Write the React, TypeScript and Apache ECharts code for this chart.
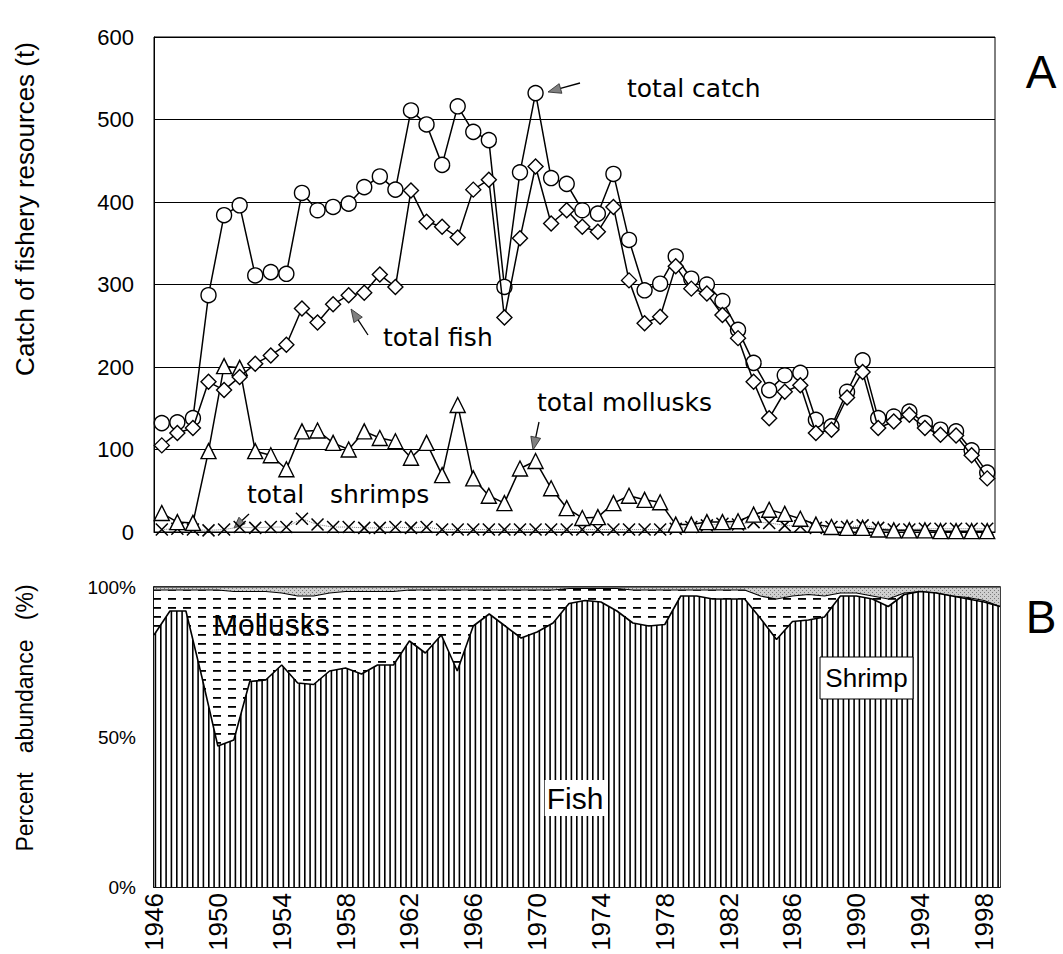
import React, { useEffect, useRef } from "react";
import * as echarts from "echarts";

const years = [
  "1946","1947","1948","1949","1950","1951","1952","1953","1954","1955",
  "1956","1957","1958","1959","1960","1961","1962","1963","1964","1965",
  "1966","1967","1968","1969","1970","1971","1972","1973","1974","1975",
  "1976","1977","1978","1979","1980","1981","1982","1983","1984","1985",
  "1986","1987","1988","1989","1990","1991","1992","1993","1994","1995",
  "1996","1997","1998","1999",
];

const totalCatch = [
  132, 133, 138, 287, 384, 396, 311, 315, 313, 411,
  390, 394, 398, 418, 431, 415, 511, 494, 445, 516,
  485, 475, 297, 436, 532, 429, 422, 390, 386, 434,
  354, 293, 301, 334, 307, 300, 280, 245, 205, 172,
  190, 193, 136, 128, 170, 208, 138, 140, 146, 132,
  124, 122, 99, 72,
];

const totalFish = [
  105, 120, 126, 182, 172, 188, 204, 214, 227, 271,
  254, 276, 287, 290, 312, 297, 414, 376, 370, 357,
  415, 427, 260, 356, 443, 374, 390, 370, 364, 394,
  305, 253, 261, 322, 295, 289, 263, 235, 182, 138,
  170, 178, 120, 124, 163, 194, 126, 134, 142, 126,
  118, 117, 93, 65,
];

const totalMollusks = [
  23, 12, 11, 98, 201, 199, 98, 93, 76, 122,
  123, 108, 100, 122, 114, 110, 90, 108, 69, 154,
  65, 44, 35, 77, 86, 53, 29, 17, 18, 35,
  44, 39, 36, 9, 9, 12, 12, 13, 21, 27,
  22, 16, 9, 6, 5, 5, 3, 2, 2, 2,
  1, 1, 1, 1,
];

const totalShrimps = [
  3, 4, 3, 2, 3, 6, 5, 6, 6, 16,
  9, 6, 6, 5, 5, 6, 5, 6, 3, 3,
  3, 3, 3, 3, 3, 3, 3, 3, 3, 3,
  3, 3, 3, 4, 6, 8, 10, 9, 12, 11,
  8, 7, 5, 6, 6, 8, 5, 3, 3, 4,
  4, 4, 4, 4,
];

const fishPct = [
  84, 92, 92, 70, 47, 49, 68.5, 69, 74, 68,
  67.5, 72, 73, 71, 74, 74, 82, 78, 84, 72,
  87, 91, 87, 83, 85, 88, 94.5, 95.5, 95, 92,
  88, 87, 87.5, 97, 97, 96, 96, 96, 89.5, 82.5,
  88.5, 89, 90, 97, 97, 96, 93.5, 97.5, 98.5, 98,
  97, 96, 95, 93.5,
];

const molluskPct = [
  15, 7, 7, 29, 52, 49.5, 30, 29.5, 24, 29,
  29.5, 26, 25.5, 27.5, 24.5, 24.5, 17, 21, 15, 27,
  12, 8, 12, 16, 14, 11, 5, 4, 4.5, 7.5,
  11, 12, 11.5, 2, 2, 3, 3, 3, 7.5, 13.5,
  8.5, 8.5, 7, 1, 1, 1, 2.5, 0.5, 0, 0,
  0, 0.5, 0.5, 0,
];

const shrimpPct = [
  1, 1, 1, 1, 1, 1.5, 1.5, 1.5, 2, 3,
  3, 2, 1.5, 1.5, 1.5, 1.5, 1, 1, 1, 1,
  1, 1, 1, 1, 1, 1, 0.5, 0.5, 0.5, 0.5,
  1, 1, 1, 1, 1, 1, 1, 1, 3, 4,
  3, 2.5, 3, 2, 2, 3, 4, 2, 1.5, 2,
  3, 3.5, 4.5, 6.5,
];

const AXIS_FONT = "'Liberation Sans', Arial, sans-serif";
const NOTE_FONT = "'DejaVu Sans', sans-serif";

function makeVLinePattern() {
  const c = document.createElement("canvas");
  c.width = 16;
  c.height = 8;
  const ctx = c.getContext("2d")!;
  ctx.fillStyle = "#ffffff";
  ctx.fillRect(0, 0, 16, 8);
  ctx.fillStyle = "#000000";
  ctx.fillRect(0, 0, 1.6, 8);
  ctx.fillRect(5.3, 0, 1.6, 8);
  ctx.fillRect(10.6, 0, 1.6, 8);
  return { image: c, repeat: "repeat", imageWidth: 16, imageHeight: 8 };
}

function makeDashPattern() {
  const c = document.createElement("canvas");
  c.width = 15;
  c.height = 9;
  const ctx = c.getContext("2d")!;
  ctx.fillStyle = "#ffffff";
  ctx.fillRect(0, 0, 15, 9);
  ctx.fillStyle = "#000000";
  ctx.fillRect(3, 4, 8, 1.8);
  return { image: c, repeat: "repeat", imageWidth: 15, imageHeight: 9 };
}

function makeStipplePattern() {
  const c = document.createElement("canvas");
  c.width = 4;
  c.height = 4;
  const ctx = c.getContext("2d")!;
  ctx.fillStyle = "#cfcfcf";
  ctx.fillRect(0, 0, 4, 4);
  ctx.fillStyle = "#7a7a7a";
  ctx.fillRect(0, 0, 1, 1);
  ctx.fillRect(2, 2, 1, 1);
  return { image: c, repeat: "repeat", imageWidth: 4, imageHeight: 4 };
}

function arrow(x1: number, y1: number, x2: number, y2: number, len = 13, half = 5) {
  const dx = x2 - x1;
  const dy = y2 - y1;
  const d = Math.hypot(dx, dy);
  const ux = dx / d;
  const uy = dy / d;
  const bx = x2 - ux * len;
  const by = y2 - uy * len;
  return [
    {
      type: "line",
      shape: { x1, y1, x2: bx, y2: by },
      style: { stroke: "#000", lineWidth: 1.3 },
      silent: true,
    },
    {
      type: "polygon",
      shape: {
        points: [
          [x2, y2],
          [bx - uy * half, by + ux * half],
          [bx + uy * half, by - ux * half],
        ],
      },
      style: { fill: "#808080", stroke: "#222", lineWidth: 0.8 },
      silent: true,
    },
  ];
}

function noteText(text: string, x: number, y: number, size = 25, extra: any = {}) {
  return {
    type: "text",
    x,
    y,
    silent: true,
    style: {
      text,
      fontSize: size,
      fontFamily: NOTE_FONT,
      fill: "#000",
      align: "left",
      verticalAlign: "middle",
      ...extra,
    },
  };
}

export default function App() {
  const ref = useRef<HTMLDivElement>(null);

  useEffect(() => {
    document.body.style.margin = "0";
    const chart = echarts.init(ref.current!, null, { renderer: "svg" });

    const hollow = {
      color: "#ffffff",
      borderColor: "#000000",
      borderWidth: 1.4,
    };
    const lineBlack = { color: "#000000", width: 1.5 };

    const option: any = {
      animation: false,
      backgroundColor: "#ffffff",
      grid: [
        {
          left: 154,
          top: 37,
          width: 841,
          height: 495,
          show: true,
          borderColor: "#000",
          borderWidth: 1,
          backgroundColor: "transparent",
        },
        {
          left: 154,
          top: 587,
          width: 846,
          height: 300,
          show: true,
          borderColor: "#000",
          borderWidth: 1.5,
          backgroundColor: "transparent",
        },
      ],
      xAxis: [
        {
          type: "category",
          gridIndex: 0,
          data: years,
          boundaryGap: true,
          axisLine: { lineStyle: { color: "#000", width: 1 } },
          axisTick: { show: false },
          axisLabel: { show: false },
          splitLine: { show: false },
        },
        {
          type: "category",
          gridIndex: 1,
          data: years,
          boundaryGap: false,
          axisLine: { lineStyle: { color: "#000", width: 1.5 } },
          axisTick: { show: false },
          axisLabel: {
            rotate: 90,
            interval: 3,
            fontSize: 26,
            color: "#000",
            fontFamily: AXIS_FONT,
            margin: 6,
          },
          splitLine: { show: false },
        },
      ],
      yAxis: [
        {
          type: "value",
          gridIndex: 0,
          min: 0,
          max: 600,
          interval: 100,
          axisLine: { show: true, lineStyle: { color: "#000" } },
          axisTick: { show: false },
          splitLine: { show: true, lineStyle: { color: "#000", width: 1 } },
          axisLabel: {
            fontSize: 22,
            color: "#000",
            fontFamily: AXIS_FONT,
            margin: 20,
          },
        },
        {
          type: "value",
          gridIndex: 1,
          min: 0,
          max: 100,
          interval: 50,
          axisLine: { show: true, lineStyle: { color: "#000", width: 1.5 } },
          axisTick: { show: false },
          splitLine: { show: false },
          axisLabel: {
            formatter: "{value}%",
            fontSize: 19,
            color: "#000",
            fontFamily: AXIS_FONT,
            margin: 18,
          },
        },
      ],
      series: [
        {
          name: "total shrimps",
          type: "line",
          xAxisIndex: 0,
          yAxisIndex: 0,
          data: totalShrimps,
          symbol: "path://M0,0L10,10M10,0L0,10",
          symbolSize: 12,
          showAllSymbol: true,
          itemStyle: { color: "#ffffff", borderColor: "#000", borderWidth: 1.5 },
          lineStyle: { color: "#777", width: 1, type: "dotted" },
          silent: true,
          z: 3,
        },
        {
          name: "total mollusks",
          type: "line",
          xAxisIndex: 0,
          yAxisIndex: 0,
          data: totalMollusks,
          symbol: "triangle",
          symbolSize: 15,
          showAllSymbol: true,
          itemStyle: hollow,
          lineStyle: lineBlack,
          silent: true,
          z: 4,
        },
        {
          name: "total catch",
          type: "line",
          xAxisIndex: 0,
          yAxisIndex: 0,
          data: totalCatch,
          symbol: "circle",
          symbolSize: 15,
          showAllSymbol: true,
          itemStyle: hollow,
          lineStyle: lineBlack,
          silent: true,
          z: 5,
        },
        {
          name: "total fish",
          type: "line",
          xAxisIndex: 0,
          yAxisIndex: 0,
          data: totalFish,
          symbol: "diamond",
          symbolSize: 15,
          showAllSymbol: true,
          itemStyle: hollow,
          lineStyle: lineBlack,
          silent: true,
          z: 6,
        },
        {
          name: "Fish",
          type: "line",
          xAxisIndex: 1,
          yAxisIndex: 1,
          stack: "pct",
          data: fishPct,
          symbol: "none",
          lineStyle: { color: "#000", width: 1.6 },
          areaStyle: { color: makeVLinePattern(), opacity: 1 },
          silent: true,
          z: 4,
        },
        {
          name: "Mollusks",
          type: "line",
          xAxisIndex: 1,
          yAxisIndex: 1,
          stack: "pct",
          data: molluskPct,
          symbol: "none",
          lineStyle: { color: "#000", width: 1.2 },
          areaStyle: { color: makeDashPattern(), opacity: 1 },
          silent: true,
          z: 3,
        },
        {
          name: "Shrimp",
          type: "line",
          xAxisIndex: 1,
          yAxisIndex: 1,
          stack: "pct",
          data: shrimpPct,
          symbol: "none",
          lineStyle: { color: "#000", width: 1 },
          areaStyle: { color: makeStipplePattern(), opacity: 1 },
          silent: true,
          z: 2,
        },
      ],
      graphic: [
        {
          type: "text",
          x: 25,
          y: 209,
          rotation: Math.PI / 2,
          silent: true,
          style: {
            text: "Catch of fishery resources (t)",
            fontSize: 26,
            fontFamily: AXIS_FONT,
            fill: "#000",
            align: "center",
            verticalAlign: "middle",
          },
        },
        {
          type: "text",
          x: 25,
          y: 718,
          rotation: Math.PI / 2,
          silent: true,
          style: {
            text: "Percent\u00a0\u00a0\u00a0abundance\u00a0\u00a0\u00a0(%)",
            fontSize: 23,
            fontFamily: AXIS_FONT,
            fill: "#000",
            align: "center",
            verticalAlign: "middle",
          },
        },
        {
          type: "text",
          x: 1041,
          y: 72,
          silent: true,
          style: {
            text: "A",
            fontSize: 46,
            fontFamily: AXIS_FONT,
            fill: "#000",
            align: "center",
            verticalAlign: "middle",
          },
        },
        {
          type: "text",
          x: 1041,
          y: 617,
          silent: true,
          style: {
            text: "B",
            fontSize: 46,
            fontFamily: AXIS_FONT,
            fill: "#000",
            align: "center",
            verticalAlign: "middle",
          },
        },
        noteText("total catch", 627, 88),
        noteText("total fish", 383, 337),
        noteText("total mollusks", 537, 402),
        noteText("total", 247, 494),
        noteText("shrimps", 330, 494),
        ...arrow(580, 83, 548, 92),
        ...arrow(368, 335, 351, 309),
        ...arrow(539, 422, 533, 450),
        ...arrow(249, 514, 234, 528, 11, 4.5),
        ...arrow(910, 632, 975, 594, 14, 5),
        {
          type: "text",
          x: 213,
          y: 624,
          silent: true,
          z: 100,
          style: {
            text: "Mollusks",
            fontSize: 30,
            fontFamily: AXIS_FONT,
            fill: "#000",
            align: "left",
            verticalAlign: "middle",
          },
        },
        {
          type: "text",
          x: 575,
          y: 798,
          silent: true,
          z: 100,
          style: {
            text: "Fish",
            fontSize: 30,
            fontFamily: AXIS_FONT,
            fill: "#000",
            align: "center",
            verticalAlign: "middle",
            backgroundColor: "#ffffff",
            padding: [3, 2],
          },
        },
        {
          type: "rect",
          silent: true,
          z: 100,
          shape: { x: 820, y: 657, width: 93, height: 42 },
          style: { fill: "#ffffff", stroke: "#000", lineWidth: 1 },
        },
        {
          type: "text",
          x: 866.5,
          y: 678,
          silent: true,
          z: 101,
          style: {
            text: "Shrimp",
            fontSize: 26,
            fontFamily: AXIS_FONT,
            fill: "#000",
            align: "center",
            verticalAlign: "middle",
          },
        },
      ],
    };

    chart.setOption(option);
    return () => chart.dispose();
  }, []);

  return (
    <div
      ref={ref}
      style={{
        position: "absolute",
        left: 0,
        top: 0,
        width: 1063,
        height: 954,
        background: "#fff",
      }}
    />
  );
}
